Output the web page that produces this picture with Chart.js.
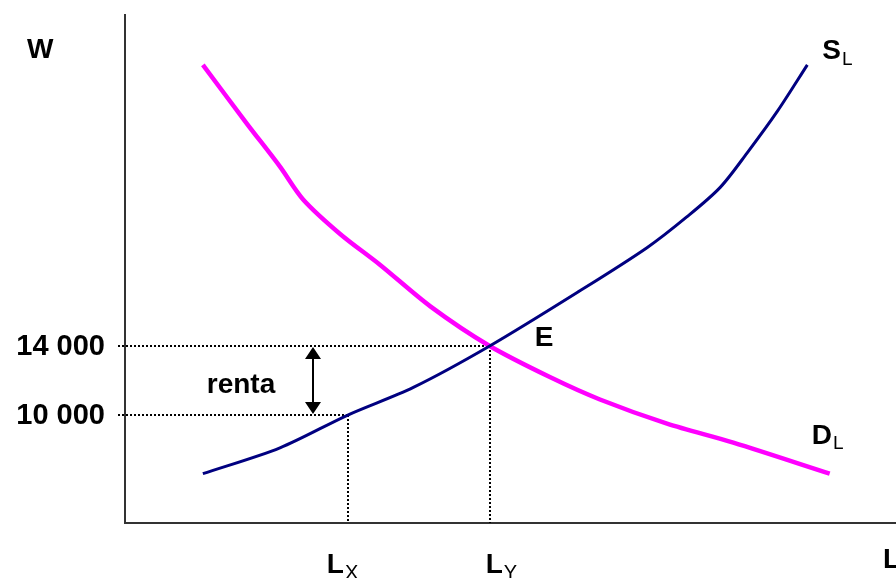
<!DOCTYPE html>
<html>
<head>
<meta charset="utf-8">
<title>Renta económica</title>
<script src="https://cdn.jsdelivr.net/npm/chart.js@4.4.0/dist/chart.umd.min.js"></script>
<style>
  html, body { margin: 0; padding: 0; background: #fff; }
  #wrap { width: 896px; height: 578px; }
</style>
</head>
<body>
<div id="wrap"><canvas id="chart" width="896" height="578"></canvas></div>
<script>
// quantity of labour (L) and wage (W)
const supplyL = [10.1, 20.1, 28.9, 37.4, 47.3, 59.0, 67.7, 72.9, 77.2, 80.7, 84.6, 88.5];
const supplyW = [6600, 8100, 10000, 11600, 14000, 17200, 19700, 21500, 23200, 25200, 27600, 30300];
const demandL = [10.1, 15.8, 20.1, 23.1, 27.9, 33.1, 39.6, 47.3, 55.1, 61.6, 70.3, 78.9, 91.4];
const demandW = [30300, 26900, 24400, 22500, 20500, 18700, 16300, 14000, 12200, 10900, 9500, 8400, 6600];

// marked wages and the labour amounts that go with them
const wageTicks = [14000, 10000];
const wageTickLabels = ['14 000', '10 000'];
const lMarks = [47.3, 28.9];
const lMarkSubs = ['Y', 'X'];

const FONT = '"Liberation Sans", Arial, sans-serif';

function toPoints(xs, ys) {
  return xs.map((x, i) => ({ x: x, y: ys[i] }));
}

function subLabel(ctx, x, y, main, sub, size, subSize, drop) {
  ctx.font = 'bold ' + size + 'px ' + FONT;
  ctx.fillText(main, x, y);
  const w = ctx.measureText(main).width;
  if (sub) {
    ctx.font = subSize + 'px ' + FONT;
    ctx.fillText(sub, x + w + 1, y + drop);
  }
}

// axes, dotted guides, arrow and texts
const decor = {
  id: 'decor',
  beforeDatasetsDraw(chart) {
    const { ctx, chartArea: a, scales: { x, y } } = chart;
    ctx.save();
    ctx.strokeStyle = '#333';
    ctx.lineWidth = 2;
    ctx.beginPath();
    ctx.moveTo(a.left, a.top);
    ctx.lineTo(a.left, a.bottom);
    ctx.lineTo(a.right, a.bottom);
    ctx.stroke();

    ctx.strokeStyle = '#000';
    ctx.setLineDash([2, 2]);
    wageTicks.forEach((w, i) => {
      const py = Math.round(y.getPixelForValue(w));
      const px = Math.round(x.getPixelForValue(lMarks[i]));
      ctx.beginPath();
      ctx.moveTo(a.left - 7, py);
      ctx.lineTo(px, py);
      ctx.stroke();
      ctx.beginPath();
      ctx.moveTo(px, py);
      ctx.lineTo(px, a.bottom);
      ctx.stroke();
    });
    ctx.restore();
  },
  afterDraw(chart) {
    const { ctx, chartArea: a, scales: { x, y } } = chart;
    ctx.save();
    ctx.fillStyle = '#000';
    ctx.strokeStyle = '#000';

    // rent arrow between the two wages
    const yTop = y.getPixelForValue(wageTicks[0]);
    const yBot = y.getPixelForValue(wageTicks[1]);
    const ax = Math.round(x.getPixelForValue(lMarks[1])) - 35;
    ctx.lineWidth = 2;
    ctx.beginPath();
    ctx.moveTo(ax, yTop + 8);
    ctx.lineTo(ax, yBot - 8);
    ctx.stroke();
    ctx.beginPath();
    ctx.moveTo(ax, yTop + 1);
    ctx.lineTo(ax - 8, yTop + 13);
    ctx.lineTo(ax + 8, yTop + 13);
    ctx.closePath();
    ctx.moveTo(ax, yBot - 1);
    ctx.lineTo(ax - 8, yBot - 13);
    ctx.lineTo(ax + 8, yBot - 13);
    ctx.closePath();
    ctx.fill();

    ctx.textBaseline = 'alphabetic';
    ctx.textAlign = 'center';
    ctx.font = 'bold 28px ' + FONT;
    ctx.fillText('renta', ax - 72, (yTop + yBot) / 2 + 12);

    // wage tick labels
    ctx.textAlign = 'right';
    ctx.textBaseline = 'middle';
    ctx.font = 'bold 29px ' + FONT;
    wageTicks.forEach((w, i) => {
      ctx.fillText(wageTickLabels[i], a.left - 20, y.getPixelForValue(w) + 1);
    });

    ctx.textAlign = 'left';
    ctx.textBaseline = 'alphabetic';
    ctx.font = 'bold 28px ' + FONT;
    ctx.fillText('W', 27, a.top + 44);
    ctx.fillText('L', a.right - 13, a.bottom + 45);

    const shifts = [-4, -21];
    lMarks.forEach((l, i) => {
      subLabel(ctx, x.getPixelForValue(l) + shifts[i], a.bottom + 50, 'L', lMarkSubs[i], 28, 20, 6);
    });

    const ePx = x.getPixelForValue(lMarks[0]);
    ctx.font = 'bold 28px ' + FONT;
    ctx.fillText('E', ePx + 45, yTop);

    const sEnd = supplyL.length - 1;
    subLabel(ctx, x.getPixelForValue(supplyL[sEnd]) + 15, y.getPixelForValue(supplyW[sEnd]) - 6, 'S', 'L', 28, 19, 6);
    const dEnd = demandL.length - 1;
    subLabel(ctx, x.getPixelForValue(demandL[dEnd]) - 18, y.getPixelForValue(demandW[dEnd]) - 30, 'D', 'L', 28, 19, 5);
    ctx.restore();
  }
};

const ctx = document.getElementById('chart').getContext('2d');
const laborChart = new Chart(ctx, {
  type: 'line',
  data: {
    datasets: [
      {
        label: 'SL',
        data: toPoints(supplyL, supplyW),
        borderColor: '#000080',
        borderWidth: 3,
        pointRadius: 0,
        tension: 0.3,
        fill: false
      },
      {
        label: 'DL',
        data: toPoints(demandL, demandW),
        borderColor: '#ff00ff',
        borderWidth: 4.5,
        pointRadius: 0,
        tension: 0.3,
        fill: false
      }
    ]
  },
  options: {
    responsive: false,
    animation: false,
    layout: { padding: { left: 125, top: 14, right: 0, bottom: 55 } },
    plugins: { legend: { display: false }, tooltip: { enabled: false } },
    scales: {
      x: { type: 'linear', min: 0, max: 100, display: false },
      y: { type: 'linear', min: 3740, max: 33250, display: false }
    }
  },
  plugins: [decor]
});
</script>
</body>
</html>
